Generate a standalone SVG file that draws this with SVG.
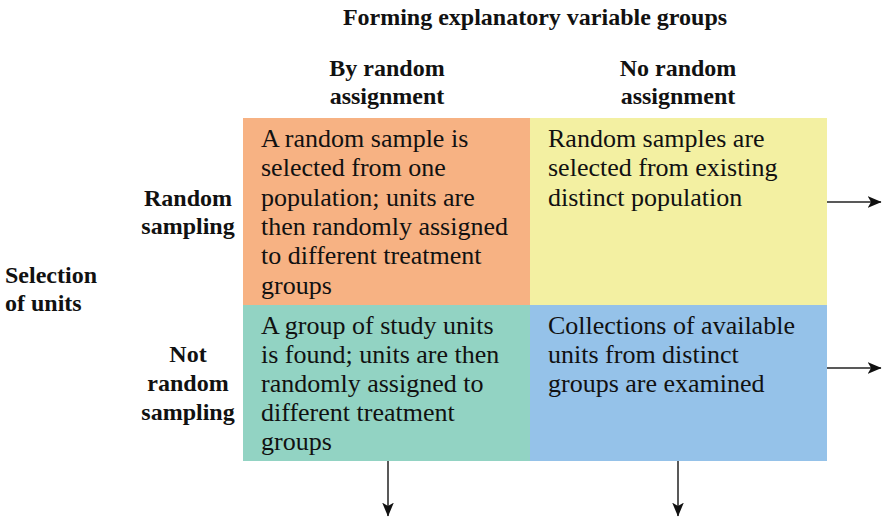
<svg xmlns="http://www.w3.org/2000/svg" width="882" height="517" viewBox="0 0 882 517">
<style>
.hd{font-family:"Liberation Serif","Times New Roman",serif;font-weight:bold;font-size:24px;fill:#111;}
.bd{font-family:"Liberation Serif","Times New Roman",serif;font-size:26px;fill:#111;}
.c{text-anchor:middle;}
.ln{stroke:#222;stroke-width:1.5;fill:none;}
</style>
<defs>
<marker id="ah" viewBox="0 0 12 10" refX="11.5" refY="5" markerWidth="14" markerHeight="12" markerUnits="userSpaceOnUse" orient="auto">
<path d="M0,0 L12,5 L0,10 L3,5 Z" fill="#111"/>
</marker>
</defs>
<rect width="882" height="517" fill="#fff"/>
<g id="headers">
<text class="hd c" x="535" y="25">Forming explanatory variable groups</text>
<text class="hd c" x="387" y="76">By random</text>
<text class="hd c" x="387" y="104">assignment</text>
<text class="hd c" x="678" y="76">No random</text>
<text class="hd c" x="678" y="104">assignment</text>
<text class="hd c" x="188" y="206">Random</text>
<text class="hd c" x="188" y="234">sampling</text>
<text class="hd c" x="188" y="362">Not</text>
<text class="hd c" x="188" y="391">random</text>
<text class="hd c" x="188" y="420">sampling</text>
<text class="hd" x="5" y="283">Selection</text>
<text class="hd" x="5" y="311">of units</text>
</g>
<g id="cell-tl">
<rect x="243" y="118" width="287" height="187" fill="#F7B283"/>
<text class="bd" x="261" y="147">A random sample is</text>
<text class="bd" x="261" y="176">selected from one</text>
<text class="bd" x="261" y="206">population; units are</text>
<text class="bd" x="261" y="235">then randomly assigned</text>
<text class="bd" x="261" y="264">to different treatment</text>
<text class="bd" x="261" y="294">groups</text>
</g>
<g id="cell-tr">
<rect x="530" y="118" width="297" height="187" fill="#F3F0A2"/>
<text class="bd" x="548" y="147">Random samples are</text>
<text class="bd" x="548" y="176">selected from existing</text>
<text class="bd" x="548" y="206">distinct population</text>
</g>
<g id="cell-bl">
<rect x="243" y="305" width="287" height="156" fill="#92D3C3"/>
<text class="bd" x="261" y="334">A group of study units</text>
<text class="bd" x="261" y="363">is found; units are then</text>
<text class="bd" x="261" y="392">randomly assigned to</text>
<text class="bd" x="261" y="421">different treatment</text>
<text class="bd" x="261" y="450">groups</text>
</g>
<g id="cell-br">
<rect x="530" y="305" width="297" height="156" fill="#95C2E9"/>
<text class="bd" x="548" y="334">Collections of available</text>
<text class="bd" x="548" y="363">units from distinct</text>
<text class="bd" x="548" y="392">groups are examined</text>
</g>
<g id="connectors">
<line class="ln" x1="827" y1="202" x2="881" y2="202" marker-end="url(#ah)"/>
<line class="ln" x1="827" y1="368" x2="881" y2="368" marker-end="url(#ah)"/>
<line class="ln" x1="388" y1="461" x2="388" y2="516" marker-end="url(#ah)"/>
<line class="ln" x1="678" y1="461" x2="678" y2="516" marker-end="url(#ah)"/>
</g>
</svg>
